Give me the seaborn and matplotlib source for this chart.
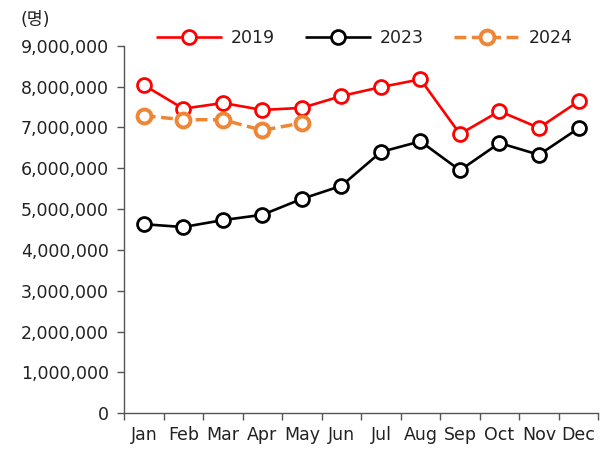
import numpy as np
import pandas as pd
import matplotlib
matplotlib.use("Agg")
import matplotlib.pyplot as plt
import seaborn as sns

months = ['Jan', 'Feb', 'Mar', 'Apr', 'May', 'Jun', 'Jul', 'Aug', 'Sep', 'Oct', 'Nov', 'Dec']
v2019 = [8040000, 7460000, 7600000, 7430000, 7480000, 7770000, 7990000, 8180000, 6840000, 7400000, 6990000, 7640000]
v2023 = [4630000, 4560000, 4730000, 4860000, 5250000, 5570000, 6400000, 6660000, 5950000, 6620000, 6330000, 6980000]
v2024 = [7290000, 7190000, 7190000, 6930000, 7110000]

sns.set_style("white")
plt.rcParams['font.family'] = ['DejaVu Sans', 'Noto Sans CJK KR']

fig = plt.figure(figsize=(6.08, 4.54), dpi=100)
ax = fig.add_axes([0.204, 0.09, 0.78, 0.809])

series = [
    ('2019', v2019, '#FF0000', (0, ()), 1.9, 2.0),
    ('2023', v2023, '#000000', (0, ()), 1.9, 2.0),
    ('2024', v2024, '#EE8636', (0, (3.4, 1.6)), 2.5, 2.8),
]
for name, vals, color, ls, lw, mew in series:
    x = np.arange(len(vals))
    sns.lineplot(x=x, y=vals, ax=ax, color=color, linestyle=ls, linewidth=lw,
                 marker='o', markersize=10, markerfacecolor='white',
                 markeredgecolor=color, markeredgewidth=mew, label=name)

ax.set_xlim(-0.5, 11.5)
ax.set_ylim(0, 9000000)
ax.set_yticks(np.arange(0, 9000001, 1000000))
ax.yaxis.set_major_formatter(matplotlib.ticker.FuncFormatter(lambda v, p: f"{int(v):,}"))
ax.set_xticks(np.arange(12))
ax.set_xticklabels(months)
ax.set_xticks(np.arange(-0.5, 12, 1), minor=True)
ax.tick_params(axis='x', which='major', bottom=True, length=0, pad=9, labelsize=12.5, colors='#222222')
ax.tick_params(axis='x', which='minor', bottom=True, length=5, width=1, color='#555555', direction='out')
ax.tick_params(axis='y', which='major', left=True, length=5, width=1, color='#555555', direction='out',
               pad=6, labelsize=12.5, labelcolor='#222222')
for s in ['top', 'right']:
    ax.spines[s].set_visible(False)
for s in ['left', 'bottom']:
    ax.spines[s].set_color('#555555')
    ax.spines[s].set_linewidth(1)
ax.set_xlabel('')
ax.set_ylabel('')

ax.legend(loc='lower center', bbox_to_anchor=(0.507, 0.955), ncol=3, frameon=False,
          fontsize=12.5, handlelength=3.8, columnspacing=1.75, handletextpad=0.5,
          labelcolor='#222222')

fig.text(0.033, 0.945, '(명)', fontsize=12.5, color='#222222')

plt.savefig('out.png', dpi=100)
